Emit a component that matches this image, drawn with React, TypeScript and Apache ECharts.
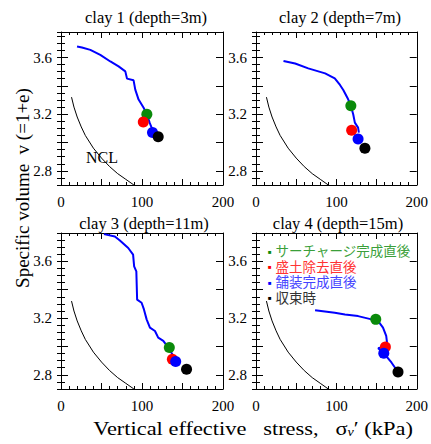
import React, { useEffect, useRef } from "react";
import * as echarts from "echarts";

// ---------- data ----------
const xTickLabels = [0, 100, 200];
const yTickLabels = [2.8, 3.2, 3.6];
const yMajorTicks = [2.8, 3.0, 3.2, 3.4, 3.6];

const panelTitles = [
  "clay 1 (depth=3m)",
  "clay 2 (depth=7m)",
  "clay 3 (depth=11m)",
  "clay 4 (depth=15m)",
];

const stageNames = ["サーチャージ完成直後", "盛土除去直後", "舗装完成直後", "収束時"];

// NCL (same in every panel): [stress kPa, specific volume]
const nclCurve = [
  [13, 3.32], [16, 3.25], [20, 3.18], [25, 3.11], [30, 3.05], [40, 2.96],
  [50, 2.89], [60, 2.83], [70, 2.78], [80, 2.74], [90, 2.7],
];

// consolidation paths
const clay1Path = [
  [19.8, 3.677], [25.9, 3.67], [36.2, 3.654], [48.5, 3.619], [60.9, 3.572],
  [71.1, 3.537], [79.4, 3.502], [81.5, 3.451], [89.6, 3.439], [91.7, 3.373],
  [95.8, 3.303], [102, 3.245], [106.2, 3.198], [109.4, 3.14], [113.6, 3.081],
];
const clay2Path = [
  [34.2, 3.576], [48.7, 3.558], [65, 3.523], [86, 3.488], [98, 3.453],
  [104.5, 3.406], [108.6, 3.371], [114, 3.313], [118, 3.26], [121, 3.198],
  [123, 3.14], [127, 3.105], [128, 3.07],
];
const clay3Path = [
  [53, 3.792], [66.5, 3.775], [72.7, 3.747], [83, 3.694], [89, 3.647],
  [90.3, 3.565], [93, 3.53], [94, 3.33], [99.5, 3.308], [102.4, 3.261],
  [105.7, 3.191], [109.8, 3.133], [116, 3.109], [120, 3.062], [126.3, 3.039],
  [132.5, 2.992], [138.7, 2.933], [142.8, 2.891],
];
const clay4Path = [
  [73.5, 3.256], [98, 3.238], [110.7, 3.226], [127, 3.214], [143.7, 3.191],
  [152, 3.179], [158, 3.133], [162, 3.074], [163.5, 3.004], [152, 2.988],
  [159, 2.952], [168.5, 2.887], [176.7, 2.82],
];

// stage points: surcharge done, fill removed, pavement done, converged
const clay1Stages = [[106, 3.2], [101.6, 3.144], [113, 3.07], [120, 3.04]];
const clay2Stages = [[118, 3.26], [119, 3.087], [127, 3.025], [135.5, 2.96]];
const clay3Stages = [[133.7, 2.992], [137.5, 2.91], [141.6, 2.894], [155, 2.84]];
const clay4Stages = [[149, 3.191], [161, 2.996], [159, 2.952], [176.7, 2.82]];

const paths = [clay1Path, clay2Path, clay3Path, clay4Path];
const stages = [clay1Stages, clay2Stages, clay3Stages, clay4Stages];

// ---------- styles ----------
const SERIF = "'Liberation Serif', serif";
const CJK = "'Liberation Sans', 'Noto Sans CJK JP', sans-serif";
const stageColors = ["#0a8a0a", "#ff0000", "#0000ff", "#000000"];
const legendTextColors = ["#3a9f3a", "#ff3333", "#4444ff", "#333333"];

const gridBoxes = [
  { left: 61, top: 32, width: 162, height: 153 },
  { left: 256, top: 32, width: 161, height: 153 },
  { left: 61, top: 233, width: 162, height: 156 },
  { left: 256, top: 233, width: 161, height: 156 },
];
const yMaxes = [3.78, 3.78, 3.8, 3.8];
const Y_MIN = 2.7;
const titleCenters = [
  [146, 17],
  [340, 17],
  [144, 223],
  [338, 223],
];

export default function App() {
  const ref = useRef<HTMLDivElement>(null);

  useEffect(() => {
    if (!ref.current) return;
    const chart = echarts.init(ref.current, undefined, { renderer: "svg" });

    const lineStyle = { color: "#000", width: 1 };
    const xAxes: any[] = [];
    const yAxes: any[] = [];
    const series: any[] = [];

    gridBoxes.forEach((_, i) => {
      const xBase = {
        type: "value",
        gridIndex: i,
        min: 0,
        max: 200,
        interval: 50,
        splitLine: { show: false },
        axisLine: { show: true, onZero: false, lineStyle },
        axisTick: { show: true, inside: true, length: 6, lineStyle },
        minorTick: { show: true, splitNumber: 5, length: 3, lineStyle },
      };
      xAxes.push({
        ...xBase,
        position: "bottom",
        axisLabel: {
          show: true,
          margin: 9,
          fontFamily: SERIF,
          fontSize: 15,
          color: "#000",
          formatter: (v: number) => (xTickLabels.includes(v) ? String(v) : ""),
        },
      });
      xAxes.push({ ...xBase, position: "top", axisLabel: { show: false } });

      const yBase = {
        type: "value",
        gridIndex: i,
        min: Y_MIN,
        max: yMaxes[i],
        splitLine: { show: false },
      };
      yAxes.push({
        ...yBase,
        position: "left",
        axisLine: { show: true, onZero: false, lineStyle },
        axisTick: { show: true, inside: true, length: 7, lineStyle, customValues: yMajorTicks },
        axisLabel: {
          show: true,
          margin: 9,
          fontFamily: SERIF,
          fontSize: 15,
          color: "#000",
          customValues: yTickLabels,
          formatter: (v: number) => v.toFixed(1),
        },
      });
      yAxes.push({
        ...yBase,
        position: "right",
        axisLine: { show: true, onZero: false, lineStyle },
        axisTick: { show: true, inside: true, length: 7, lineStyle, customValues: yMajorTicks },
        axisLabel: { show: false },
      });
      ["left", "right"].forEach((pos) => {
        yAxes.push({
          ...yBase,
          position: pos,
          interval: 0.05,
          axisLine: { show: false },
          axisTick: { show: true, inside: true, length: 4, lineStyle },
          axisLabel: { show: false },
        });
      });

      const xi = i * 2;
      const yi = i * 4;
      series.push({
        type: "line",
        name: "NCL",
        xAxisIndex: xi,
        yAxisIndex: yi,
        data: nclCurve,
        showSymbol: false,
        lineStyle: { color: "#000", width: 1 },
        z: 2,
      });
      series.push({
        type: "line",
        name: "path",
        xAxisIndex: xi,
        yAxisIndex: yi,
        data: paths[i],
        showSymbol: false,
        lineStyle: { color: "#0000ff", width: 2 },
        z: 3,
      });
      stageNames.forEach((n, k) => {
        series.push({
          type: "scatter",
          name: n,
          xAxisIndex: xi,
          yAxisIndex: yi,
          data: [stages[i][k]],
          symbol: "circle",
          symbolSize: 11,
          itemStyle: { color: stageColors[k], opacity: 1 },
          z: 4 + k,
        });
      });
    });

    const graphics: any[] = [];
    panelTitles.forEach((t, i) => {
      graphics.push({
        type: "text",
        x: titleCenters[i][0],
        y: titleCenters[i][1],
        style: {
          text: t,
          fontFamily: SERIF,
          fontSize: 16.5,
          fill: "#000",
          align: "center",
          verticalAlign: "middle",
        },
      });
    });
    graphics.push({
      type: "text",
      x: 102,
      y: 157,
      style: {
        text: "NCL",
        fontFamily: SERIF,
        fontSize: 16,
        fill: "#000",
        align: "center",
        verticalAlign: "middle",
      },
    });
    graphics.push({
      type: "text",
      x: 22,
      y: 188,
      rotation: Math.PI / 2,
      style: {
        text: "Specific volume  v (=1+e)",
        fontFamily: SERIF,
        fontSize: 19,
        fill: "#000",
        align: "center",
        verticalAlign: "middle",
      },
    });
    graphics.push({
      type: "text",
      x: 253,
      y: 428,
      scaleX: 1.18,
      style: {
        text: "{a|Vertical effective   stress,   σ}{b|v}{a|′ (kPa)}",
        align: "center",
        verticalAlign: "middle",
        rich: {
          a: { fontFamily: SERIF, fontSize: 19, fill: "#000" },
          b: {
            fontFamily: SERIF,
            fontSize: 12,
            fontStyle: "italic",
            fill: "#000",
            verticalAlign: "bottom",
          },
        },
      },
    });

    // legend block (one multi-line rich text in panel 4)
    const legendRich: any = {};
    const legendLines = stageNames.map((n, k) => {
      legendRich["i" + k] = {
        fontFamily: CJK,
        fontSize: 6,
        lineHeight: 15.5,
        fill: stageColors[k],
        padding: [0, 4, 0, 0],
      };
      legendRich["t" + k] = {
        fontFamily: CJK,
        fontSize: 13.5,
        lineHeight: 15.5,
        fill: legendTextColors[k],
      };
      return `{i${k}|■}{t${k}|${n}}`;
    });
    graphics.push({
      type: "text",
      x: 268,
      y: 244,
      style: {
        text: legendLines.join("\n"),
        align: "left",
        verticalAlign: "top",
        rich: legendRich,
      },
    });

    chart.setOption({
      animation: false,
      backgroundColor: "#fff",
      grid: gridBoxes.map((g) => ({ ...g, containLabel: false })),
      xAxis: xAxes,
      yAxis: yAxes,
      graphic: graphics,
      series,
    });

    return () => chart.dispose();
  }, []);

  return (
    <div
      ref={ref}
      style={{ position: "fixed", left: 0, top: 0, width: 431, height: 444 }}
    />
  );
}
